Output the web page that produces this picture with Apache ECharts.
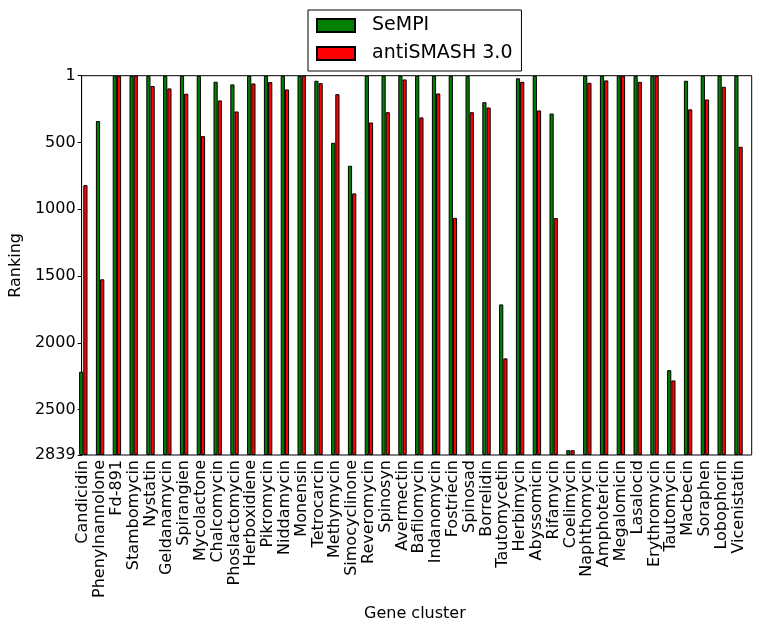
<!DOCTYPE html>
<html>
<head>
<meta charset="utf-8">
<script src="https://cdn.jsdelivr.net/npm/echarts@6/dist/echarts.min.js"></script>
<style>html,body{margin:0;padding:0;background:#fff;}#chart{width:761px;height:632px;}</style>
</head>
<body>
<div id="chart"></div>
<script>
var categories = ['Candicidin','Phenylnannolone','Fd-891','Stambomycin','Nystatin','Geldanamycin','Spirangien','Mycolactone','Chalcomycin','Phoslactomycin','Herboxidiene','Pikromycin','Niddamycin','Monensin','Tetrocarcin','Methymycin','Simocyclinone','Reveromycin','Spinosyn','Avermectin','Bafilomycin','Indanomycin','Fostriecin','Spinosad','Borrelidin','Tautomycetin','Herbimycin','Abyssomicin','Rifamycin','Coelimycin','Naphthomycin','Amphotericin','Megalomicin','Lasalocid','Erythromycin','Tautomycin','Macbecin','Soraphen','Lobophorin','Vicenistatin'];
var sempi = [2216,339,1,1,1,1,1,1,45,65,1,1,1,1,38,502,674,1,1,1,1,1,1,1,198,1712,20,1,283,2803,1,1,1,1,1,2204,38,1,1,1];
var antismash = [819,1524,1,1,77,95,135,452,185,268,58,48,103,1,56,138,881,350,273,28,312,133,1064,273,238,2116,46,260,1066,2803,53,35,1,46,1,2281,252,178,83,532];
var rankMin = 0;
var rankMax = 2839;
var rankStep = 500;

var FONT = 'DejaVu Sans';
var chart = echarts.init(document.getElementById('chart'), null, {renderer: 'canvas'});
chart.setOption({
  animation: false,
  textStyle: {fontFamily: FONT, color: '#000'},
  legend: {
    orient: 'vertical',
    left: 308, top: 10,
    padding: [6, 9, 8, 8],
    itemGap: 9,
    itemWidth: 38, itemHeight: 13,
    borderColor: '#000', borderWidth: 1,
    icon: 'rect',
    textStyle: {fontFamily: FONT, fontSize: 19, color: '#000', padding: [0, 0, 0, 12]},
    data: ['SeMPI', 'antiSMASH 3.0']
  },
  grid: [
    {left: 74.9, right: 14.1, top: 75.7, bottom: 177, containLabel: false, show: false},
    {left: 78.3, right: 9.3, top: 75.7, bottom: 177, containLabel: false, show: true, borderColor: '#000', borderWidth: 1, backgroundColor: 'transparent'}
  ],
  xAxis: [
    {
      type: 'category', gridIndex: 0, data: categories,
      axisLine: {show: false}, axisTick: {show: false},
      axisLabel: {rotate: 90, interval: 0, fontSize: 16, color: '#000', fontFamily: FONT, margin: 5},
      name: 'Gene cluster', nameLocation: 'middle', nameGap: 148,
      nameTextStyle: {fontSize: 16, color: '#000', fontFamily: FONT, padding: [0, 0, 0, 8]}
    },
    {type: 'value', gridIndex: 1, show: false, min: 0, max: 1}
  ],
  yAxis: [
    {
      type: 'value', gridIndex: 0, show: false, inverse: true,
      min: rankMin, max: rankMax, startValue: rankMax,
      splitLine: {show: false}
    },
    {
      type: 'value', gridIndex: 1, inverse: true,
      min: rankMin, max: rankMax, interval: rankStep,
      axisLine: {show: true, lineStyle: {color: '#000'}},
      axisTick: {show: true, inside: false, length: 4, lineStyle: {color: '#000'}},
      splitLine: {show: false},
      axisLabel: {
        fontSize: 16, color: '#000', fontFamily: FONT, margin: 6,
        formatter: function (v) { return v === 0 ? '1' : String(v); }
      },
      name: 'Ranking', nameLocation: 'middle', nameGap: 50, nameRotate: 90,
      nameTextStyle: {fontSize: 16, color: '#000', fontFamily: FONT}
    }
  ],
  series: [
    {
      name: 'SeMPI', type: 'bar', xAxisIndex: 0, yAxisIndex: 0,
      data: sempi, barWidth: '25%', barGap: '0%',
      itemStyle: {color: '#008000', borderColor: '#000', borderWidth: 1}
    },
    {
      name: 'antiSMASH 3.0', type: 'bar', xAxisIndex: 0, yAxisIndex: 0,
      data: antismash, barWidth: '25%', barGap: '0%',
      itemStyle: {color: '#ff0000', borderColor: '#000', borderWidth: 1}
    }
  ]
});
</script>
</body>
</html>
